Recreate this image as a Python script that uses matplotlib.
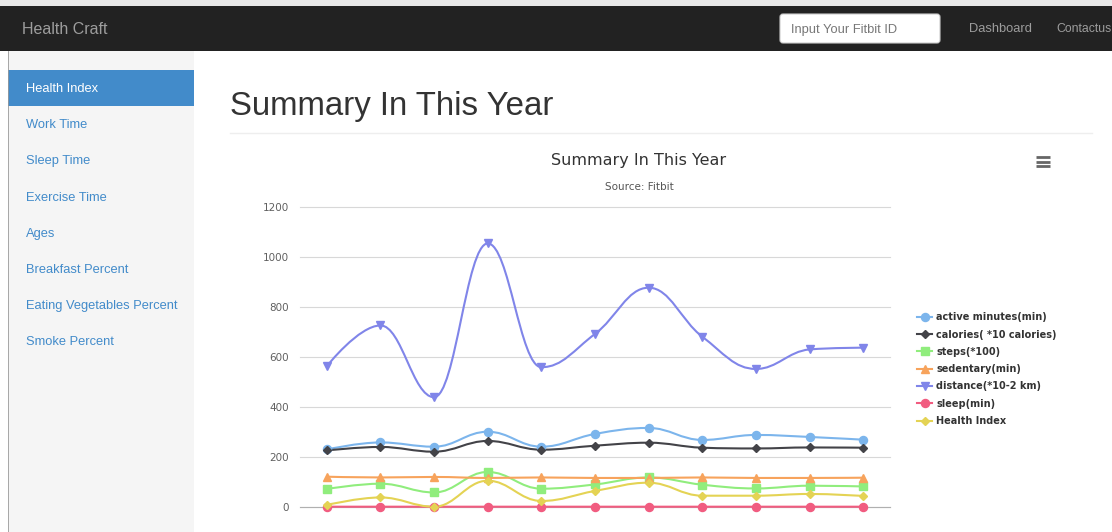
import numpy as np
import matplotlib.pyplot as plt
from matplotlib.path import Path
from matplotlib.patches import PathPatch, Rectangle, FancyBboxPatch
from matplotlib.lines import Line2D

# Values (11 points per series)
active_minutes = [229, 257, 240, 300, 240, 291, 315, 267, 287, 279, 268]
calories = [225, 239, 220, 263, 228, 244, 256, 236, 233, 237, 236]
steps = [71, 92, 57, 139, 72, 89, 117, 88, 73, 84, 81]
sedentary = [120, 117, 119, 115, 117, 115, 115, 117, 115, 115, 116]
distance = [562, 725, 438, 1053, 558, 691, 876, 680, 551, 629, 636]
sleep = [0, 0, 0, 0, 0, 0, 0, 0, 0, 0, 0]
health_index = [7, 37, 0, 104, 23, 63, 96, 44, 44, 51, 43]

series_names = ["active minutes(min)", "calories( *10 calories)", "steps(*100)",
                "sedentary(min)", "distance(*10-2 km)", "sleep(min)", "Health Index"]
series_data = [active_minutes, calories, steps, sedentary, distance, sleep, health_index]
colors = ['#7cb5ec', '#434348', '#90ed7d', '#f7a35c', '#8085e9', '#f15c80', '#e4d354']
markers = ['o', 'D', 's', '^', 'v', 'o', 'D']
marker_sizes = [5.8, 4.3, 5.2, 5.8, 5.8, 5.8, 4.3]

y_ticks = [0, 200, 400, 600, 800, 1000, 1200]
menu_items = ["Health Index", "Work Time", "Sleep Time", "Exercise Time", "Ages",
              "Breakfast Percent", "Eating Vegetables Percent", "Smoke Percent"]

W, H = 1112, 532


def spline_path(xs, ys, smoothing=1.5):
    """Bezier path in the style of a Highcharts spline series."""
    n = len(xs)
    lc = [(xs[i], ys[i]) for i in range(n)]
    rc = [(xs[i], ys[i]) for i in range(n)]
    d = smoothing + 1
    for i in range(1, n - 1):
        x, y = xs[i], ys[i]
        lx, ly = xs[i - 1], ys[i - 1]
        nx, ny = xs[i + 1], ys[i + 1]
        lcx, lcy = (smoothing * x + lx) / d, (smoothing * y + ly) / d
        rcx, rcy = (smoothing * x + nx) / d, (smoothing * y + ny) / d
        corr = (rcy - lcy) * (rcx - x) / (rcx - lcx) + y - rcy
        lcy += corr
        rcy += corr
        if lcy > ly and lcy > y:
            lcy = max(ly, y); rcy = 2 * y - lcy
        elif lcy < ly and lcy < y:
            lcy = min(ly, y); rcy = 2 * y - lcy
        if rcy > ny and rcy > y:
            rcy = max(ny, y); lcy = 2 * y - rcy
        elif rcy < ny and rcy < y:
            rcy = min(ny, y); lcy = 2 * y - rcy
        lc[i] = (lcx, lcy)
        rc[i] = (rcx, rcy)
    verts = [(xs[0], ys[0])]
    codes = [Path.MOVETO]
    for i in range(1, n):
        verts += [rc[i - 1], lc[i], (xs[i], ys[i])]
        codes += [Path.CURVE4] * 3
    return Path(verts, codes)


fig = plt.figure(figsize=(W / 100, H / 100), dpi=100)
fig.patch.set_facecolor('white')

# page layer in pixel coordinates
page = fig.add_axes([0, 0, 1, 1])
page.set_xlim(0, W)
page.set_ylim(H, 0)
page.axis('off')

# navbar
page.add_patch(Rectangle((0, 0), W, 6, color='#e8e8e8', lw=0))
page.add_patch(Rectangle((0, 6), W, 45, color='#222222', lw=0))
page.text(22, 29, "Health Craft", color='#9d9d9d', fontsize=11.5,
          family='Liberation Sans', va='center', ha='left')
page.add_patch(FancyBboxPatch((780, 14), 160, 29, boxstyle="round,pad=0,rounding_size=3",
                              fc='white', ec='#cccccc', lw=0.8))
page.text(791, 29.5, "Input Your Fitbit ID", color='#777777', fontsize=9.3,
          family='Liberation Sans', va='center', ha='left')
page.text(969, 29.5, "Dashboard", color='#9d9d9d', fontsize=9.3,
          family='Liberation Sans', va='center', ha='left')
page.text(1056, 29.5, "Contactus", color='#9d9d9d', fontsize=8.8,
          family='Liberation Sans', va='center', ha='left')

# sidebar
page.add_patch(Rectangle((8, 51), 186, H - 51, color='#f5f5f5', lw=0))
page.plot([7.5, 7.5], [51, H], color='#999999', lw=0.6)
page.add_patch(Rectangle((8, 70), 186, 36, color='#428bca', lw=0))
for i, item in enumerate(menu_items):
    page.text(26, 89 + i * 36.2, item, color='white' if i == 0 else '#428bca',
              fontsize=9.3, family='Liberation Sans', va='center', ha='left')

# page heading
page.text(230, 106, "Summary In This Year", color='#333333', fontsize=23.8,
          family='Liberation Sans', va='center', ha='left')
page.plot([230, 1092], [133, 133], color='#eeeeee', lw=1)

# chart title, subtitle, menu icon
page.text(639, 160, "Summary In This Year", color='#333333', fontsize=11.5,
          family='DejaVu Sans', va='center', ha='center')
page.text(639, 187, "Source: Fitbit", color='#555555', fontsize=7.5,
          family='DejaVu Sans', va='center', ha='center')
for yy in (157, 161.5, 166):
    page.plot([1036, 1050], [yy, yy], color='#666666', lw=2, solid_capstyle='butt')

# chart axes
x0_px, x1_px = 300, 890
y0_px, y1_px = 506.7, 206.7
ax = fig.add_axes([x0_px / W, (H - y0_px) / H, (x1_px - x0_px) / W, (y0_px - y1_px) / H])
ax.set_facecolor('none')
ax.set_xlim(-0.5, 10.5)
ax.set_ylim(0, 1200)
for s in ax.spines.values():
    s.set_visible(False)
ax.set_yticks(y_ticks)
ax.set_yticklabels([str(v) for v in y_ticks])
ax.tick_params(axis='y', length=0, pad=8, labelsize=7.5, labelcolor='#606060')
ax.set_xticks([])
for v in y_ticks:
    ax.axhline(v, color='#d8d8d8', lw=0.8, zorder=0, clip_on=False)
ax.axhline(0, color='#b0b0b0', lw=0.8, zorder=0, clip_on=False)

xs = np.arange(len(active_minutes))
handles = []
for name, data, c, m, ms in zip(series_names, series_data, colors, markers, marker_sizes):
    path = spline_path(list(xs), list(data))
    ax.add_patch(PathPatch(path, fc='none', ec=c, lw=1.5, clip_on=False, zorder=2))
    ax.plot(xs, data, ls='none', marker=m, ms=ms, color=c, mec=c, clip_on=False, zorder=3)
    handles.append(Line2D([], [], color=c, lw=1.5, marker=m, ms=ms))

leg = fig.legend(handles, series_names, loc='upper left',
                 bbox_to_anchor=(908 / W, 1 - 303.5 / H), frameon=False,
                 handlelength=1.6, handletextpad=0.4, labelspacing=0.75,
                 prop={'family': 'DejaVu Sans', 'weight': 'bold', 'size': 7.0})
for t in leg.get_texts():
    t.set_color('#333333')

fig.savefig('out.png', dpi=100)
